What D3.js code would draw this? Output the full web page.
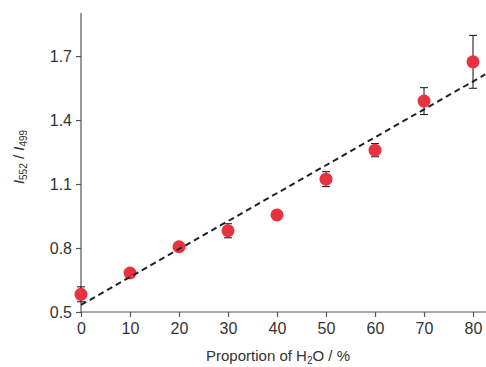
<!DOCTYPE html>
<html>
<head>
<meta charset="utf-8">
<script src="https://cdn.jsdelivr.net/npm/d3@7"></script>
<style>
  body { margin: 0; background: #fff; }
  svg { display: block; font-family: "Liberation Sans", Arial, sans-serif; }
</style>
</head>
<body>
<svg id="chart"></svg>
<script>
// data
const proportion = [0, 10, 20, 30, 40, 50, 60, 70, 80];
const ratio = [0.583, 0.683, 0.806, 0.881, 0.955, 1.123, 1.259, 1.489, 1.673];
const ratioErr = [0.035, 0.012, 0.012, 0.033, 0.012, 0.035, 0.031, 0.063, 0.124];
const fitX = [0, 82.5];
const fitY = [0.533, 1.614];
const xTicks = [0, 10, 20, 30, 40, 50, 60, 70, 80];
const yTicks = [0.5, 0.8, 1.1, 1.4, 1.7];

const config = {
  width: 486, height: 367,
  margin: { top: 13, right: 0, bottom: 55, left: 81 }
};

const width = config.width - config.margin.left - config.margin.right;
const height = config.height - config.margin.top - config.margin.bottom;

const svg = d3.select('#chart')
  .attr('width', config.width)
  .attr('height', config.height);

const chart = svg.append('g')
  .attr('transform', `translate(${config.margin.left},${config.margin.top})`);

const xScale = d3.scaleLinear().domain([0, 82.65]).range([0, width]);
const yScale = d3.scaleLinear().domain([0.5, 1.902]).range([height, 0]);

const xAxis = d3.axisBottom(xScale).tickValues(xTicks).tickSize(5).tickPadding(6)
  .tickFormat(d3.format('d'));
const yAxis = d3.axisLeft(yScale).tickValues(yTicks).tickSize(5).tickPadding(4)
  .tickFormat(d3.format('.1f'));

const xAxisG = chart.append('g')
  .attr('class', 'axis x-axis')
  .attr('transform', `translate(0,${height})`)
  .call(xAxis);
const yAxisG = chart.append('g')
  .attr('class', 'axis y-axis')
  .call(yAxis);

[xAxisG, yAxisG].forEach(g => {
  g.select('.domain').attr('stroke', '#555').attr('stroke-width', 1.2);
  g.selectAll('.tick line').attr('stroke', '#555').attr('stroke-width', 1.2);
  g.selectAll('.tick text').attr('fill', '#333').style('font-size', '16px');
});
// domain without outer ticks
xAxisG.select('.domain').attr('d', `M0,0H${width}`);
yAxisG.select('.domain').attr('d', `M0,${height}V0`);

// error bars
const eb = chart.append('g').attr('stroke', '#222').attr('stroke-width', 1.1);
proportion.forEach((p, i) => {
  const x = xScale(p);
  const y1 = yScale(ratio[i] - ratioErr[i]);
  const y2 = yScale(ratio[i] + ratioErr[i]);
  eb.append('line').attr('x1', x).attr('x2', x).attr('y1', y1).attr('y2', y2);
  eb.append('line').attr('x1', x - 4).attr('x2', x + 4).attr('y1', y1).attr('y2', y1);
  eb.append('line').attr('x1', x - 4).attr('x2', x + 4).attr('y1', y2).attr('y2', y2);
});

// points
chart.append('g').selectAll('circle')
  .data(proportion)
  .join('circle')
  .attr('cx', d => xScale(d))
  .attr('cy', (d, i) => yScale(ratio[i]))
  .attr('r', 6.5)
  .attr('fill', '#e8323f');

// fitted line
const line = d3.line()
  .x(d => xScale(d[0]))
  .y(d => yScale(d[1]));
chart.append('path')
  .datum(fitX.map((x, i) => [x, fitY[i]]))
  .attr('fill', 'none')
  .attr('stroke', '#222')
  .attr('stroke-width', 2)
  .attr('stroke-dasharray', '6,4')
  .attr('d', line);

// axis titles
const xt = svg.append('text')
  .attr('x', 278).attr('y', 361)
  .attr('text-anchor', 'middle')
  .attr('fill', '#333')
  .style('font-size', '15px');
xt.append('tspan').text('Proportion of H');
xt.append('tspan').attr('dy', 3).style('font-size', '10px').text('2');
xt.append('tspan').attr('dy', -3).text('O / %');

const yt = svg.append('text')
  .attr('transform', 'translate(24,157) rotate(-90)')
  .attr('text-anchor', 'middle')
  .attr('fill', '#333')
  .style('font-size', '15px');
yt.append('tspan').style('font-style', 'italic').text('I');
yt.append('tspan').attr('dy', 3).style('font-size', '10px').text('552');
yt.append('tspan').attr('dy', -3).text(' / ');
yt.append('tspan').style('font-style', 'italic').text('I');
yt.append('tspan').attr('dy', 3).style('font-size', '10px').text('499');
</script>
</body>
</html>
